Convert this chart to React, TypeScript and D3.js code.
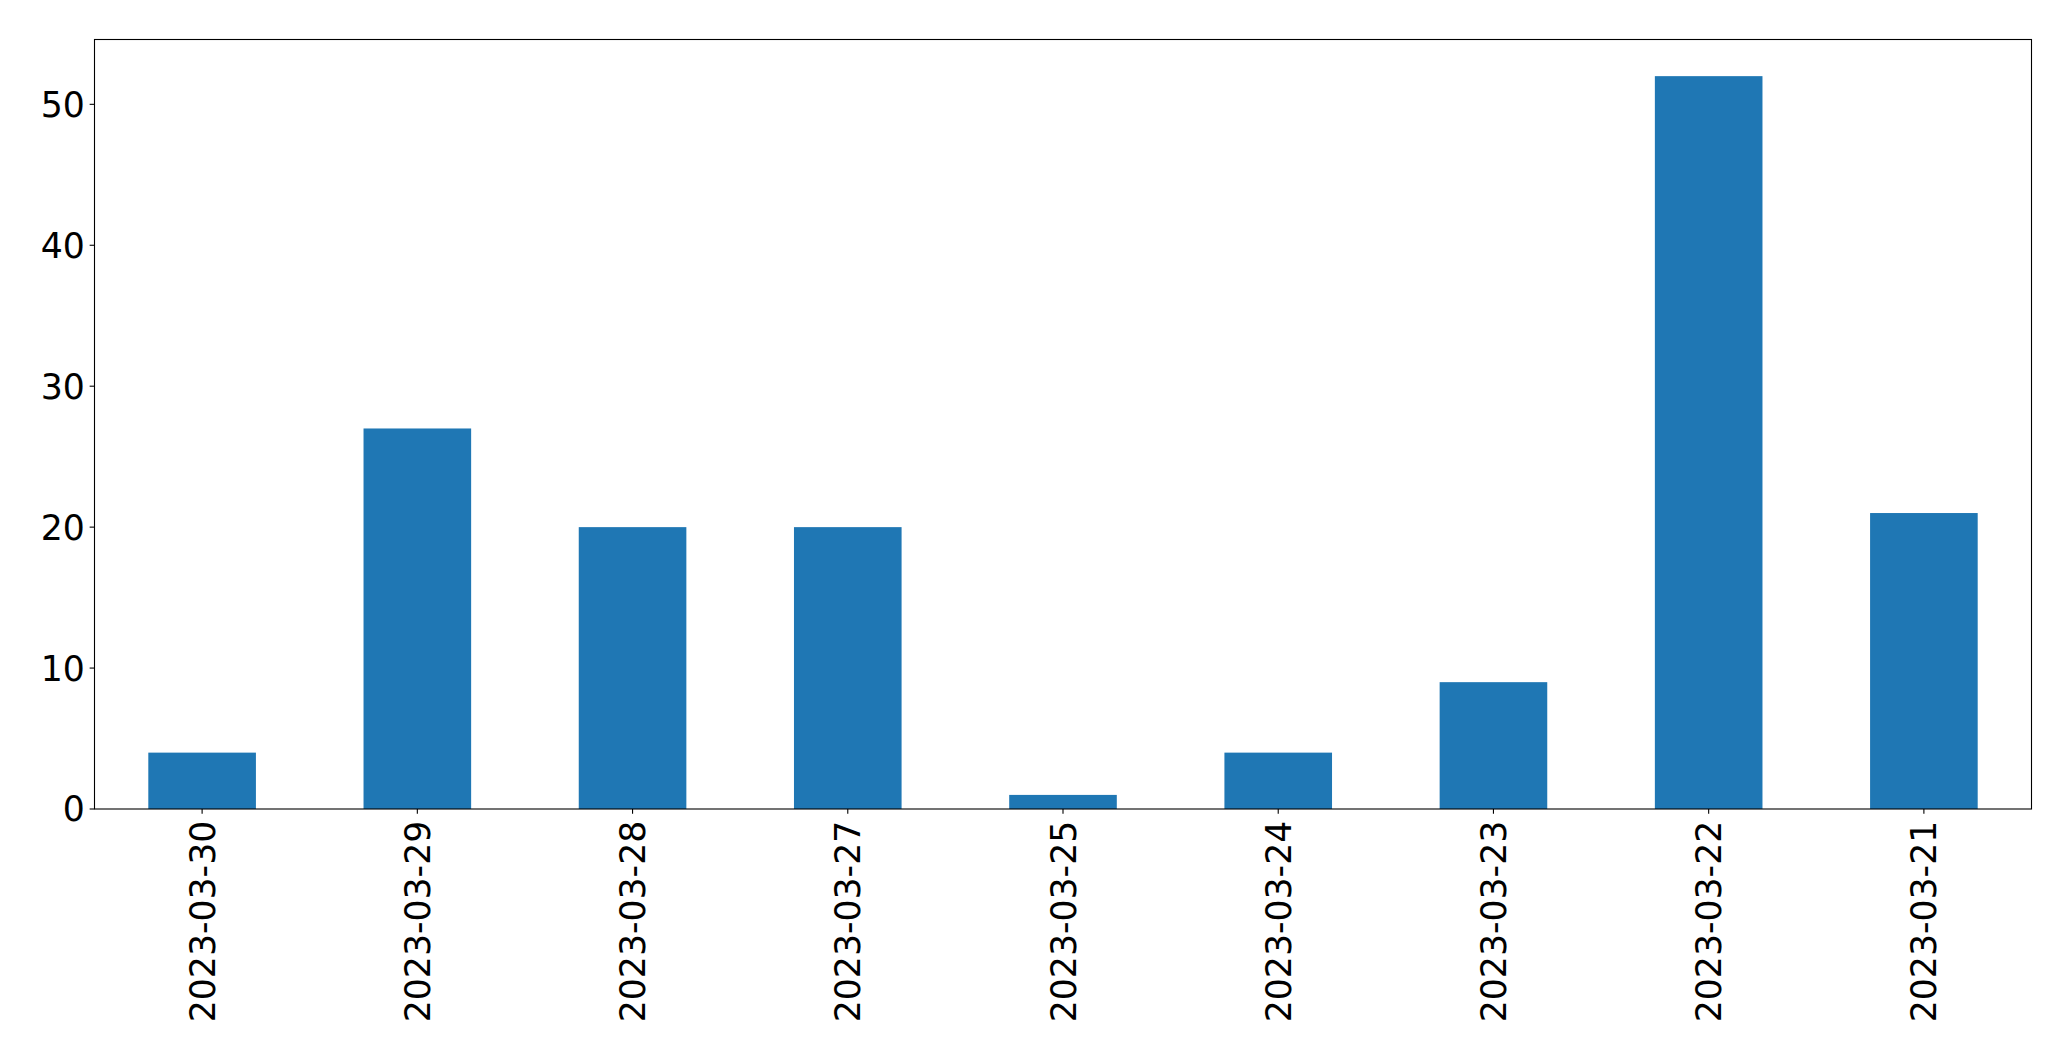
import React from "react";
import * as d3 from "d3";

const categories = ["2023-03-30", "2023-03-29", "2023-03-28", "2023-03-27", "2023-03-25", "2023-03-24", "2023-03-23", "2023-03-22", "2023-03-21"];
const values = [4, 27, 20, 20, 1, 4, 9, 52, 21];
const yTicks = [0, 10, 20, 30, 40, 50];

const W = 2071;
const H = 1061;
const M = { left: 94.5, right: 2031.5, top: 39.5, bottom: 809 };
const FONT = "'DejaVu Sans', sans-serif";
const FS = 34.7;

export default function App() {
  const x = d3.scaleBand<string>().domain(categories).range([M.left, M.right]).paddingInner(0.5).paddingOuter(0.25);
  const yMax = d3.max(values)! * 1.05;
  const y = d3.scaleLinear().domain([0, yMax]).range([M.bottom, M.top]);
  const tickLen = 4.86;
  const pad = 4.86;
  return (
    <svg width={W} height={H} style={{ position: "absolute", left: 0, top: 0, background: "#fff" }}>
      <rect x={0} y={0} width={W} height={H} fill="#fff" />
      {values.map((v, i) => (
        <rect key={i} x={x(categories[i])!} y={y(v)} width={x.bandwidth()} height={y(0) - y(v)} fill="#1f77b4" />
      ))}
      <rect x={M.left} y={M.top} width={M.right - M.left} height={M.bottom - M.top} fill="none" stroke="#000" strokeWidth={1.1} />
      {yTicks.map((t) => (
        <g key={t}>
          <line x1={M.left - tickLen} x2={M.left} y1={y(t)} y2={y(t)} stroke="#000" strokeWidth={1.1} />
          <text x={M.left - tickLen - pad} y={y(t)} dy="0.36em" textAnchor="end" fontFamily={FONT} fontSize={FS} fill="#000">
            {t}
          </text>
        </g>
      ))}
      {categories.map((c) => {
        const cx = x(c)! + x.bandwidth() / 2;
        return (
          <g key={c}>
            <line x1={cx} x2={cx} y1={M.bottom} y2={M.bottom + tickLen} stroke="#000" strokeWidth={1.1} />
            <text
              transform={`translate(${cx},${M.bottom + tickLen + pad + 2}) rotate(-90)`}
              dy="0.36em"
              textAnchor="end"
              fontFamily={FONT}
              fontSize={FS}
              fill="#000"
            >
              {c}
            </text>
          </g>
        );
      })}
    </svg>
  );
}
